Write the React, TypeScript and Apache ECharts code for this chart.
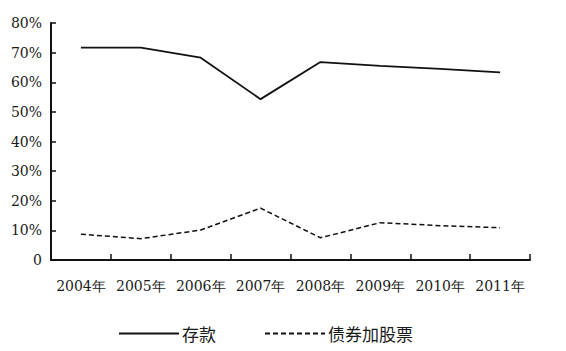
import React, { useEffect, useRef } from "react";
import * as echarts from "echarts";

const categories = ["2004年", "2005年", "2006年", "2007年", "2008年", "2009年", "2010年", "2011年"];
const deposits = [71.7, 71.7, 68.3, 54.3, 66.8, 65.5, 64.5, 63.3];
const bondsStocks = [8.7, 7.2, 10.1, 17.5, 7.5, 12.6, 11.6, 10.9];
const seriesNames = ["存款", "债券加股票"];

export default function App() {
  const ref = useRef<HTMLDivElement>(null);
  useEffect(() => {
    if (!ref.current) return;
    const chart = echarts.init(ref.current, undefined, { renderer: "svg" });
    const font = "DejaVu Serif";
    chart.setOption({
      animation: false,
      backgroundColor: "#ffffff",
      grid: { left: 51, right: 36, top: 23, bottom: 91, containLabel: false },
      legend: {
        left: 113,
        top: 320,
        itemWidth: 60,
        itemHeight: 14,
        itemGap: 48,
        data: seriesNames,
        itemStyle: { opacity: 0 },
        textStyle: { fontFamily: "Noto Sans CJK SC", fontSize: 17, color: "#1a1a1a", padding: [0, 0, 0, -2] },
      },
      xAxis: {
        type: "category",
        data: categories,
        boundaryGap: true,
        axisLine: { show: true, lineStyle: { color: "#111", width: 2 } },
        axisTick: { show: true, inside: true, length: 6, lineStyle: { color: "#111", width: 1.5 } },
        axisLabel: { interval: 0, margin: 19, fontFamily: font, fontSize: 14, color: "#1a1a1a" },
        splitLine: { show: false },
      },
      yAxis: {
        type: "value",
        min: 0,
        max: 80,
        interval: 10,
        axisLine: { show: true, lineStyle: { color: "#111", width: 2 } },
        axisTick: { show: true, inside: true, length: 5, lineStyle: { color: "#111", width: 1.5 } },
        axisLabel: {
          margin: 9,
          fontFamily: font,
          fontSize: 14,
          color: "#1a1a1a",
          formatter: (v: number) => (v === 0 ? "0" : v + "%"),
        },
        splitLine: { show: false },
      },
      series: [
        {
          name: seriesNames[0],
          type: "line",
          data: deposits,
          symbol: "none",
          lineStyle: { color: "#111", width: 1.8, type: "solid" },
          itemStyle: { color: "#111" },
        },
        {
          name: seriesNames[1],
          type: "line",
          data: bondsStocks,
          symbol: "none",
          lineStyle: { color: "#111", width: 1.5, type: [5, 3] },
          itemStyle: { color: "#111" },
        },
      ],
    });
    return () => chart.dispose();
  }, []);
  return (
    <div
      ref={ref}
      style={{ position: "fixed", left: 0, top: 0, width: 566, height: 351, background: "#fff" }}
    />
  );
}
